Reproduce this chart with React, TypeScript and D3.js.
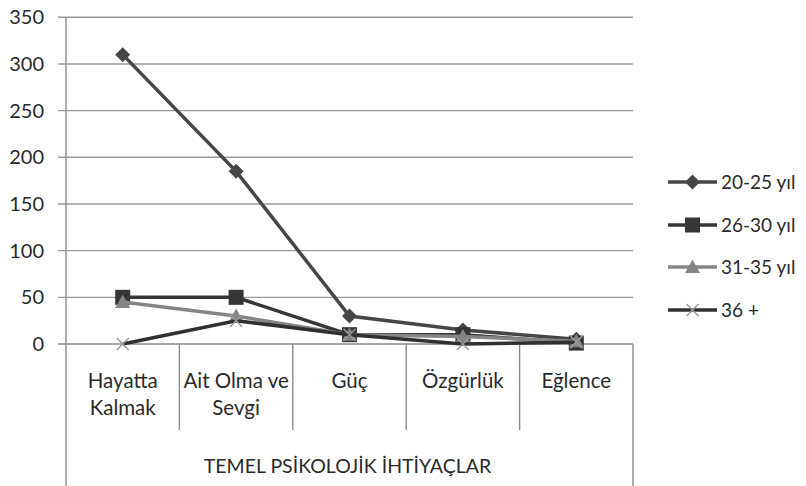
import React from "react";
import * as d3 from "d3";

const categories = [["Hayatta", "Kalmak"], ["Ait Olma ve", "Sevgi"], ["Güç"], ["Özgürlük"], ["Eğlence"]];
const seriesNames = ["20-25 yıl", "26-30 yıl", "31-35 yıl", "36 +"];
const s2025 = [310, 185, 30, 15, 5];
const s2630 = [50, 50, 10, 10, 1];
const s3135 = [45, 30, 10, 8, 3];
const s36 = [0, 25, 10, 0, 2];
const yTicks = [0, 50, 100, 150, 200, 250, 300, 350];
const axisTitle = "TEMEL PSİKOLOJİK İHTİYAÇLAR";

const seriesData = [s2025, s2630, s3135, s36];
const colors = ["#464646", "#363636", "#858585", "#303030"];
const markers = ["diamond", "square", "triangle", "x"];

const W = 806, H = 486;
const left = 66, right = 633, top = 17.3, zeroY = 344;
const FONT = "Lato, 'Open Sans', sans-serif";
const TEXT = "#2a2a2a";

function Marker({ type, x, y, color }: { type: string; x: number; y: number; color: string }) {
  if (type === "diamond") {
    const r = 7.5;
    return <path d={`M${x},${y - r}L${x + r},${y}L${x},${y + r}L${x - r},${y}Z`} fill={color} />;
  }
  if (type === "square") {
    const r = 7.5;
    return <rect x={x - r} y={y - r} width={2 * r} height={2 * r} fill={color} />;
  }
  if (type === "triangle") {
    const r = 7.5;
    return <path d={`M${x},${y - r}L${x + r},${y + r * 0.8}L${x - r},${y + r * 0.8}Z`} fill={color} />;
  }
  const r = 6;
  return (
    <path d={`M${x - r},${y - r}L${x + r},${y + r}M${x + r},${y - r}L${x - r},${y + r}`} stroke="#9a9a9a" strokeWidth={1.5} fill="none" />
  );
}

export default function App() {
  const y = d3.scaleLinear().domain([0, 350]).range([zeroY, top]);
  const xBand = d3.scaleBand<number>().domain(d3.range(categories.length)).range([left, right]).padding(0);
  const cx = (i: number) => (xBand(i) as number) + xBand.bandwidth() / 2;
  const line = d3.line<number>().x((_, i) => cx(i)).y((v) => y(v));

  const legendX0 = 668, legendX1 = 717;
  const legendY = [182, 225, 267, 310];

  return (
    <svg width={W} height={H} style={{ position: "absolute", left: 0, top: 0, background: "#fff" }} fontFamily={FONT}>
      <rect x={0} y={0} width={W} height={H} fill="#fff" />
      {yTicks.map((t) => (
        <g key={t}>
          <line x1={left - 8} x2={right} y1={y(t)} y2={y(t)} stroke={t === 0 ? "#8a8a8a" : "#9a9a9a"} strokeWidth={1.4} />
          <text x={44} y={y(t)} dy="0.35em" textAnchor="end" fontSize={20} fill={TEXT}>{t}</text>
        </g>
      ))}
      <line x1={left} x2={left} y1={top} y2={H} stroke="#8a8a8a" strokeWidth={1.4} />
      <line x1={right} x2={right} y1={zeroY} y2={H} stroke="#8a8a8a" strokeWidth={1.4} />
      {d3.range(1, categories.length).map((i) => (
        <line key={i} x1={xBand(i)} x2={xBand(i)} y1={zeroY} y2={430} stroke="#8a8a8a" strokeWidth={1.4} />
      ))}
      {categories.map((lines, i) => (
        <text key={i} x={cx(i)} y={381} textAnchor="middle" fontSize={20.5} fill={TEXT}>
          {lines.map((l, j) => (
            <tspan key={j} x={cx(i)} dy={j === 0 ? "0.35em" : 27}>{l}</tspan>
          ))}
        </text>
      ))}
      <text x={(left + right) / 2 - 2} y={466} dy="0.35em" textAnchor="middle" fontSize={19.5} fill={TEXT}>{axisTitle}</text>
      {seriesData.map((s, k) => (
        <g key={k}>
          <path d={line(s) as string} fill="none" stroke={colors[k]} strokeWidth={3.5} />
          {s.map((v, i) => (
            <Marker key={i} type={markers[k]} x={cx(i)} y={y(v)} color={colors[k]} />
          ))}
        </g>
      ))}
      {seriesNames.map((n, k) => (
        <g key={n}>
          <line x1={legendX0} x2={legendX1} y1={legendY[k]} y2={legendY[k]} stroke={colors[k]} strokeWidth={3.5} />
          <Marker type={markers[k]} x={(legendX0 + legendX1) / 2} y={legendY[k]} color={colors[k]} />
          <text x={721} y={legendY[k]} dy="0.35em" fontSize={19} fill={TEXT}>{n}</text>
        </g>
      ))}
    </svg>
  );
}
